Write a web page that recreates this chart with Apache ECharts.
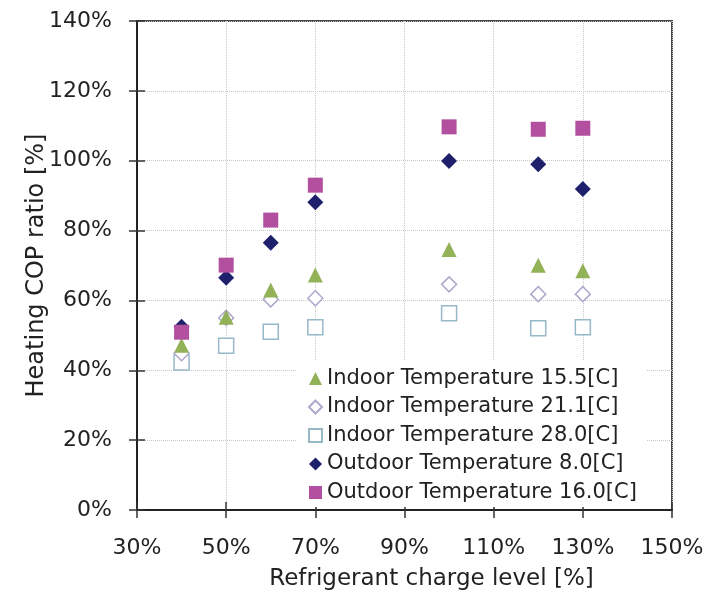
<!DOCTYPE html>
<html>
<head>
<meta charset="utf-8">
<script src="https://cdn.jsdelivr.net/npm/echarts@6/dist/echarts.min.js"></script>
<style>
html,body{margin:0;padding:0;background:#fff;}
#chart{width:721px;height:596px;}
</style>
</head>
<body>
<div id="chart"></div>
<script>
// Refrigerant charge level [%]
var chargeLevels = [40, 50, 60, 70, 100, 120, 130];
// Heating COP ratio [%]
var indoor155 = [47.2, 55.2, 63.0, 67.3, 74.6, 70.1, 68.5];
var indoor211 = [44.9, 55.0, 60.3, 60.6, 64.6, 61.8, 61.8];
var indoor280 = [42.2, 47.0, 51.0, 52.3, 56.3, 52.0, 52.3];
var outdoor80 = [52.5, 66.5, 76.5, 88.1, 99.9, 99.0, 91.9];
var outdoor160 = [50.9, 70.1, 83.0, 93.0, 109.7, 109.0, 109.3];

var seriesNames = [
  'Indoor Temperature 15.5[C]',
  'Indoor Temperature 21.1[C]',
  'Indoor Temperature 28.0[C]',
  'Outdoor Temperature 8.0[C]',
  'Outdoor Temperature 16.0[C]'
];

function pairs(ys) {
  return chargeLevels.map(function (x, i) { return [x, ys[i]]; });
}

var FONT = 'DejaVu Sans';
var chart = echarts.init(document.getElementById('chart'));
var pct = function (v) { return v + '%'; };

chart.setOption({
  animation: false,
  backgroundColor: '#fff',
  grid: {
    left: 137, right: 49, top: 21, bottom: 86,
    containLabel: false, outerBoundsMode: 'none',
    show: true, borderColor: '#444', borderWidth: 2, backgroundColor: 'transparent'
  },
  xAxis: [{
    type: 'value', min: 30, max: 150, interval: 20,
    name: 'Refrigerant charge level [%]', nameLocation: 'middle', nameGap: 58,
    nameMoveOverlap: false,
    nameTextStyle: { fontFamily: FONT, fontSize: 23, color: '#222', padding: [0, 0, 0, 54] },
    axisLine: { show: true, onZero: false, lineStyle: { color: '#222', width: 2 } },
    axisTick: { show: true, inside: false, length: 8, lineStyle: { color: '#333', width: 1.5 } },
    axisLabel: { formatter: pct, margin: 27, fontFamily: FONT, fontSize: 22, color: '#222' },
    splitLine: { show: true, lineStyle: { color: '#c8c8c8', type: 'dotted', width: 1 } }
  }, {
    type: 'value', min: 30, max: 150, interval: 20, position: 'bottom', offset: 0,
    axisLine: { show: false },
    axisTick: { show: true, inside: true, length: 8, lineStyle: { color: '#333', width: 1.5 } },
    axisLabel: { show: false },
    splitLine: { show: false }
  }],
  yAxis: [{
    type: 'value', min: 0, max: 140, interval: 20,
    name: 'Heating COP ratio [%]', nameLocation: 'middle', nameGap: 88,
    nameMoveOverlap: false,
    nameTextStyle: { fontFamily: FONT, fontSize: 24, color: '#222' },
    axisLine: { show: true, onZero: false, lineStyle: { color: '#222', width: 2 } },
    axisTick: { show: true, inside: false, length: 8, lineStyle: { color: '#333', width: 1.5 } },
    axisLabel: { formatter: pct, margin: 25, fontFamily: FONT, fontSize: 22, color: '#222' },
    splitLine: { show: true, lineStyle: { color: '#c8c8c8', type: 'dotted', width: 1 } }
  }, {
    type: 'value', min: 0, max: 140, interval: 20, position: 'left', offset: 0,
    axisLine: { show: false },
    axisTick: { show: true, inside: true, length: 8, lineStyle: { color: '#333', width: 1.5 } },
    axisLabel: { show: false },
    splitLine: { show: false }
  }],
  legend: {
    orient: 'vertical', left: 297, top: 360,
    backgroundColor: '#fff',
    padding: [8, 10, 4, 11],
    itemGap: 7.5, itemWidth: 13, itemHeight: 13,
    textStyle: { fontFamily: FONT, fontSize: 21, color: '#222', lineHeight: 21 },
    data: seriesNames
  },
  series: [{
    name: seriesNames[0], type: 'scatter', symbol: 'triangle', symbolSize: 15, z: 4,
    itemStyle: { color: '#93b156', opacity: 1 },
    data: pairs(indoor155)
  }, {
    name: seriesNames[1], type: 'scatter', symbol: 'diamond', symbolSize: 15, z: 3,
    itemStyle: { color: '#ffffff', borderColor: '#b0a8cc', borderWidth: 1.5, opacity: 1 },
    data: pairs(indoor211)
  }, {
    name: seriesNames[2], type: 'scatter', symbol: 'rect', symbolSize: 15, z: 2,
    itemStyle: { color: '#ffffff', borderColor: '#97b8c8', borderWidth: 1.5, opacity: 1 },
    data: pairs(indoor280)
  }, {
    name: seriesNames[3], type: 'scatter', symbol: 'diamond', symbolSize: 16, z: 5,
    itemStyle: { color: '#1f206c', opacity: 1 },
    data: pairs(outdoor80)
  }, {
    name: seriesNames[4], type: 'scatter', symbol: 'rect', symbolSize: 15, z: 6,
    itemStyle: { color: '#b24f9e', opacity: 1 },
    data: pairs(outdoor160)
  }]
});
</script>
</body>
</html>
